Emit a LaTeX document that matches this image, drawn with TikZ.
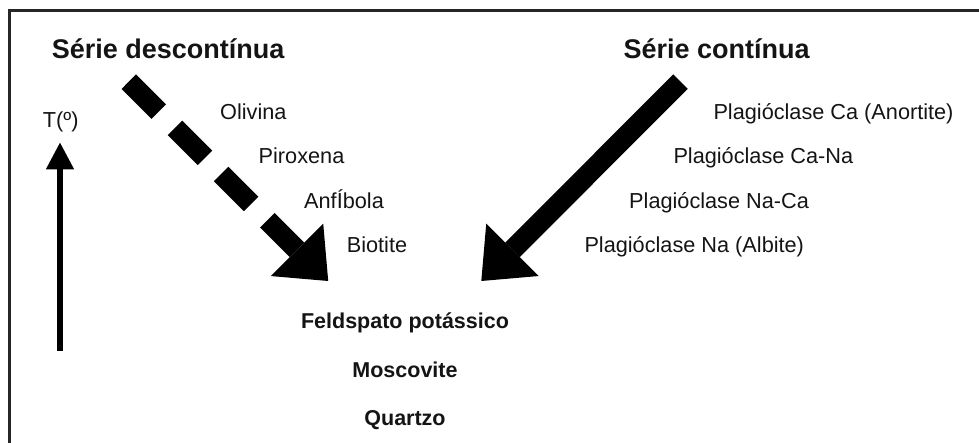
\documentclass[tikz,border=0pt]{standalone}
\usepackage{fontspec}
\setmainfont{Liberation Sans}
\usetikzlibrary{arrows.meta}
\begin{document}
\begin{tikzpicture}[x=1pt,y=-1pt,
  lbl/.style={anchor=base west, inner sep=0pt, text=black!92, font=\fontsize{21.7}{24}\selectfont},
  ttl/.style={anchor=base west, inner sep=0pt, text=black!92, font=\bfseries\fontsize{27}{30}\selectfont},
  fin/.style={anchor=base, inner sep=0pt, text=black!92, font=\bfseries\fontsize{21.5}{24}\selectfont},
  bigarrow/.style={line width=20.5pt, -{Triangle[length=44pt,width=74pt,line width=0pt]}},
  dashedarrow/.style={bigarrow, dash pattern=on 42.4pt off 22.9pt},
  tarrow/.style={line width=5.3pt, -{Triangle[length=26.6pt,width=28.3pt,line width=0pt]}},
]
\useasboundingbox (0,0) rectangle (979,443);
\draw[line width=3pt, draw=black!85] (9,11) rectangle (1000,470);

% titles
\node[ttl] (sd) at (51.7,58.3) {Série descontínua};
\node[ttl] (sc) at (623.3,58.3) {Série contínua};

% temperature
\node[lbl] (temp) at (42.7,128) {T(º)};
\coordinate (tlow) at (60,350.7);
\coordinate (thigh) at (60,142.7);
\draw[tarrow] (tlow) -- (thigh);

% discontinuous series
\node[lbl] (ol) at (220,119.3) {Olivina};
\node[lbl] (px) at (258.5,164) {Piroxena};
\node[lbl] (an) at (304,208.3) {AnfÍbola};
\node[lbl] (bi) at (346.6,252.7) {Biotite};
\coordinate (dstart) at (128.8,81.7);
\coordinate (dend) at (328.2,281);
\draw[dashedarrow] (dstart) -- (dend);

% continuous series
\node[lbl] (p1) at (713.3,119.3) {Plagióclase Ca (Anortite)};
\node[lbl] (p2) at (673.3,164) {Plagióclase Ca-Na};
\node[lbl] (p3) at (629,208.3) {Plagióclase Na-Ca};
\node[lbl] (p4) at (584.3,252.7) {Plagióclase Na (Albite)};
\coordinate (cstart) at (680.5,81.7);
\coordinate (cend) at (481.3,281);
\draw[bigarrow] (cstart) -- (cend);

% final minerals
\node[fin] (fk) at (405,328) {Feldspato potássico};
\node[fin] (mo) at (405,377.7) {Moscovite};
\node[fin] (qz) at (405,425.5) {Quartzo};
\end{tikzpicture}
\end{document}
